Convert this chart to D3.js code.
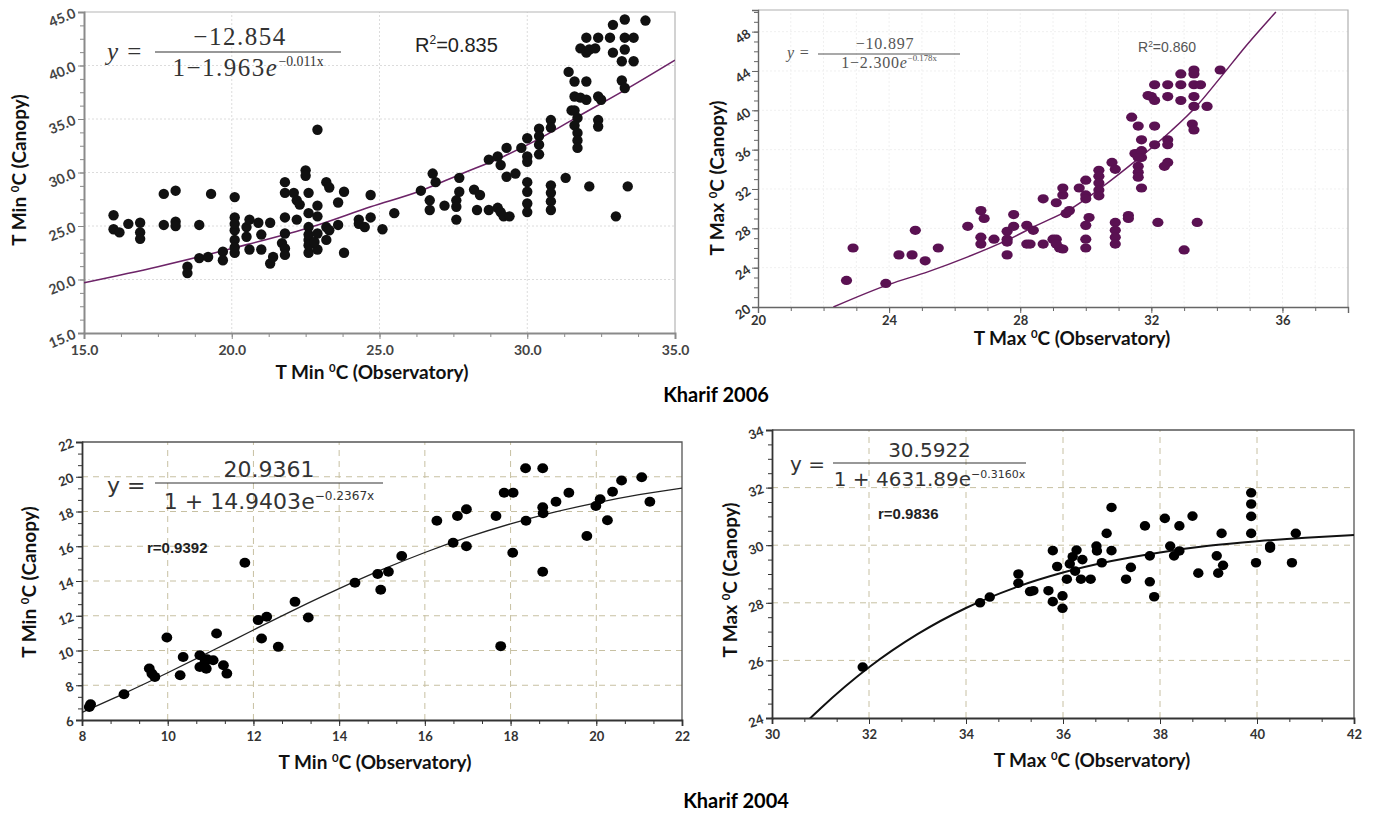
<!DOCTYPE html>
<html>
<head>
<meta charset="utf-8">
<script src="https://cdn.jsdelivr.net/npm/d3@7"></script>
<style>
  body { margin: 0; background: #fff; }
  svg { display: block; }
</style>
</head>
<body>
<svg id="chart" width="1375" height="817"></svg>
<script>
// ---- Kharif 2006, T Min: [observatory, canopy]
const tmin2006 = [
  [16.0,26.0],[16.0,24.7],[16.2,24.4],[16.5,25.2],[16.9,25.3],[16.9,24.4],[16.9,23.8],
  [17.7,28.0],[17.7,25.1],[18.1,28.3],[18.1,25.4],[18.1,25.0],[18.5,21.2],[18.5,20.6],
  [18.9,25.1],[18.9,22.0],[19.2,22.1],[19.3,28.0],[19.7,22.6],[19.7,21.8],
  [20.1,27.7],[20.1,25.8],[20.1,24.6],[20.1,23.7],[20.1,22.5],[20.1,25.2],[20.1,23.0],
  [20.5,24.9],[20.5,24.0],[20.6,22.8],[20.6,25.6],[20.9,25.3],[21.0,22.8],[21.0,24.2],
  [21.3,25.3],[21.3,21.5],[21.4,22.1],[21.7,23.4],
  [21.8,29.1],[21.8,28.1],[21.8,25.8],[21.8,24.3],[21.8,22.9],[21.8,22.3],
  [22.1,28.1],[22.2,27.4],[22.2,25.6],[22.3,27.0],[22.5,30.2],[22.5,29.7],
  [22.6,28.1],[22.6,26.2],[22.6,24.9],[22.6,23.7],[22.6,22.5],[22.6,23.2],[22.6,24.2],
  [22.9,34.0],[22.9,26.9],[22.9,25.9],[22.9,24.3],[22.9,22.8],[22.8,23.5],
  [23.2,29.1],[23.2,24.9],[23.2,23.7],[23.3,28.6],[23.3,24.6],[23.6,27.2],[23.6,25.1],
  [23.8,28.2],[23.8,22.5],[24.3,25.6],[24.3,25.2],[24.5,24.9],[24.7,27.9],[24.7,25.8],
  [25.1,24.7],[25.5,26.2],[26.4,28.3],[26.8,29.9],[26.9,29.1],[26.7,27.4],[26.7,26.5],
  [27.2,26.9],[27.6,25.6],[27.7,29.5],[27.7,28.2],[27.6,27.4],[27.6,26.8],[28.2,28.4],
  [28.4,27.9],[28.3,26.5],[28.7,31.2],[28.7,26.5],[29.0,26.7],[29.1,26.3],[29.2,25.9],
  [29.4,25.9],[29.0,31.5],[29.1,30.7],[29.3,32.3],[29.3,29.6],[29.6,29.9],[29.8,32.3],
  [30.0,33.2],[30.0,31.5],[30.0,31.0],[30.0,29.1],[30.0,28.2],[30.0,27.1],[30.0,26.3],
  [30.4,34.1],[30.4,33.4],[30.4,32.6],[30.4,31.7],[30.8,34.9],[30.8,34.2],
  [30.8,28.8],[30.8,28.1],[30.8,27.3],[30.8,26.5],[31.3,29.5],
  [31.4,39.4],[31.6,38.5],[32.0,38.5],[31.6,37.1],[31.8,37.0],[32.0,36.8],
  [31.5,35.8],[31.6,35.8],[31.7,35.1],[31.6,34.4],[31.7,33.7],[31.7,33.0],[31.7,32.3],
  [32.4,37.1],[32.5,36.8],[32.4,34.9],[32.4,34.3],[32.1,28.7],[33.0,25.9],[33.4,28.7],
  [33.2,38.6],[33.3,37.9],[32.0,42.6],[31.8,41.6],[32.0,41.2],[32.1,41.5],[32.3,41.6],
  [32.4,42.6],[32.8,42.6],[32.9,41.2],[32.9,43.8],[33.3,44.3],[33.3,42.6],[33.3,41.5],
  [33.2,40.4],[33.6,42.6],[33.6,40.4],[34.0,44.2]
];
const fitTmin2006 = [[15,19.7],[17.5,21.2],[20,22.9],[22.8,25.0],[24.7,26.8],[26.4,28.3],
  [27.7,29.8],[29.2,31.5],[30.3,33.0],[31.7,35.2],[33.3,37.7],[35,40.5]];

// ---- Kharif 2006, T Max
const tmax2006 = [
  [22.7,22.7],[22.9,26.0],[23.9,22.4],[24.3,25.3],[24.7,25.3],[24.8,27.8],[25.1,24.7],
  [25.5,26.0],[26.4,28.2],[26.8,29.8],[26.9,29.0],[26.8,27.1],[26.8,26.4],[27.2,26.9],
  [27.6,27.7],[27.6,26.9],[27.6,26.6],[27.6,25.3],[27.8,29.4],[27.8,28.2],[28.2,28.3],
  [28.2,26.4],[28.4,27.8],[28.3,26.4],[28.7,26.4],[28.7,31.0],[29.0,26.9],[29.1,26.9],
  [29.2,26.0],[29.3,25.9],[29.1,26.4],[29.1,30.6],[29.3,31.4],[29.3,32.1],[29.4,29.5],
  [29.5,29.8],[29.8,32.1],[30.0,32.9],[30.0,31.4],[30.0,31.0],[30.1,29.1],[30.0,28.3],
  [30.0,26.9],[30.0,26.0],[30.4,33.9],[30.4,33.3],[30.4,32.6],[30.4,31.9],[30.4,31.3],
  [30.8,34.7],[30.9,34.0],[30.9,28.6],[30.9,27.8],[30.9,27.1],[30.9,26.4],[31.3,29.3],
  [31.3,29.0],[31.4,39.3],[31.6,38.4],[31.7,37.0],[31.5,35.6],[31.6,35.6],[31.7,35.9],
  [31.7,35.2],[31.6,35.2],[31.6,34.3],[31.6,33.7],[31.6,33.2],[31.7,32.1],[32.1,38.4],
  [32.1,36.5],[31.9,41.5],[32.0,41.4],[32.1,41.0],[32.1,42.6],[32.2,28.6],[32.5,37.0],
  [32.5,36.5],[32.5,34.7],[32.4,34.3],[32.5,41.4],[32.5,42.6],[32.9,43.7],[32.9,42.6],
  [32.9,41.0],[33.0,25.8],[33.3,44.1],[33.3,43.7],[33.3,42.6],[33.3,41.4],[33.3,40.4],
  [33.25,38.6],[33.3,38.0],[33.4,28.6],[33.5,42.6],[33.7,40.4],[34.1,44.1]
];
const fitTmax2006 = [[22.3,20],[24,22.3],[25.2,23.6],[26.4,25.1],[27.6,26.8],[28.5,28.3],
  [29.5,29.9],[30.5,32.2],[31.5,34.8],[32.6,37.9],[33.4,40.5],[34.1,43.3],[34.9,46.6],[35.8,50]];

// ---- Kharif 2004, T Min
const tmin2004 = [
  [8.17,6.75],[8.2,6.9],[8.98,7.48],[9.57,8.96],[9.63,8.67],[9.70,8.48],[9.98,10.75],
  [10.29,8.58],[10.36,9.63],[10.75,9.73],[10.75,9.05],[10.87,9.34],[10.9,8.95],[10.92,9.5],
  [11.06,9.44],[11.14,10.98],[11.30,9.15],[11.38,8.67],[11.80,15.05],[12.11,11.75],
  [12.19,10.69],[12.31,11.94],[12.58,10.21],[12.97,12.8],[13.28,11.9],[14.37,13.9],
  [14.9,14.4],[14.97,13.5],[15.15,14.53],[15.46,15.44],[16.28,17.47],[16.66,16.2],
  [16.76,17.74],[16.97,18.13],[16.97,16.0],[17.66,17.74],[17.77,10.25],[17.85,19.08],
  [18.06,19.08],[18.05,15.63],[18.35,20.49],[18.36,17.47],[18.75,20.49],[18.75,18.24],
  [18.76,17.9],[18.75,14.53],[19.06,18.56],[19.36,19.08],[19.78,16.59],[19.99,18.32],
  [20.09,18.7],[20.26,17.5],[20.38,19.14],[20.59,19.78],[21.06,19.97],[21.25,18.56]
];
const fitTmin2004 = [[8,6.44],[9,7.55],[10,8.72],[11,9.94],[12,11.18],[13,12.40],[14,13.56],
  [15,14.65],[16,15.64],[17,16.52],[18,17.29],[19,17.95],[20,18.50],[21,18.97],[22,19.35]];

// ---- Kharif 2004, T Max
const tmax2004 = [
  [31.87,25.77],[34.29,28.0],[34.49,28.2],[35.08,29.0],[35.08,28.68],[35.32,28.39],
  [35.39,28.42],[35.70,28.42],[35.79,29.81],[35.79,28.04],[35.88,29.26],[35.99,28.24],
  [35.99,27.81],[36.08,28.82],[36.14,29.35],[36.2,29.6],[36.28,29.83],[36.25,29.1],
  [36.4,29.5],[36.37,28.82],[36.57,28.82],[36.69,29.97],[36.7,29.8],[36.80,29.39],
  [36.90,30.41],[37.0,31.31],[37.0,29.81],[37.30,28.82],[37.40,29.23],[37.69,30.67],
  [37.79,29.63],[37.79,28.73],[37.88,28.21],[38.10,30.93],[38.21,29.97],[38.29,29.63],
  [38.40,30.67],[38.4,29.8],[38.67,31.01],[38.79,29.03],[39.17,29.63],[39.2,29.03],
  [39.27,30.41],[39.3,29.3],[39.88,31.82],[39.88,31.43],[39.88,31.0],[39.88,30.41],
  [39.98,29.39],[40.27,29.97],[40.27,29.9],[40.72,29.39],[40.80,30.41]
];
const fitTmax2004 = [[30.75,23.93],[31,24.33],[32,25.76],[33,26.91],[34,27.82],[35,28.52],
  [36,29.05],[37,29.45],[38,29.75],[39,29.98],[40,30.14],[41,30.26],[42,30.35]];

const svg = d3.select("#chart");
const labelFont = "Lato, 'Open Sans', sans-serif";

function drawPanel(p) {
  const g = svg.append("g");
  const x = d3.scaleLinear().domain(p.xDomain).range(p.xRange);
  const y = d3.scaleLinear().domain(p.yDomain).range(p.yRange);
  const [x0, x1] = p.xRange, [y0, y1] = p.yRange;

  // grid
  g.append("g").selectAll("line").data(p.xGrid).join("line")
    .attr("x1", d => x(d)).attr("x2", d => x(d)).attr("y1", y0).attr("y2", y1)
    .attr("stroke", p.gridColor).attr("stroke-dasharray", p.gridDash);
  g.append("g").selectAll("line").data(p.yGrid).join("line")
    .attr("x1", x0).attr("x2", x1).attr("y1", d => y(d)).attr("y2", d => y(d))
    .attr("stroke", p.gridColor).attr("stroke-dasharray", p.gridDash);

  // frame (top + right)
  g.append("path").attr("d", `M${x0},${y1}H${x1}V${y0}`)
    .attr("fill", "none").attr("stroke", p.frameColor).attr("stroke-width", p.frameWidth);

  // minor ticks
  const minorX = d3.range(p.xDomain[0], p.xDomain[1] + 1e-6, p.minorX);
  const minorY = d3.range(p.yDomain[0], p.yDomain[1] + 1e-6, p.minorY);
  g.append("g").attr("transform", `translate(0,${y0})`)
    .call(d3.axisBottom(x).tickValues(minorX).tickSize(4).tickFormat(""))
    .call(a => a.select(".domain").remove())
    .selectAll("line").attr("stroke", p.axisColor);
  g.append("g").attr("transform", `translate(${x0},0)`)
    .call(d3.axisLeft(y).tickValues(minorY).tickSize(4).tickFormat(""))
    .call(a => a.select(".domain").remove())
    .selectAll("line").attr("stroke", p.axisColor);

  // major axes
  const xa = g.append("g").attr("transform", `translate(0,${y0})`)
    .call(d3.axisBottom(x).tickValues(p.xTicks).tickSize(6).tickFormat(p.fmt).tickPadding(p.xPad));
  const ya = g.append("g").attr("transform", `translate(${x0},0)`)
    .call(d3.axisLeft(y).tickValues(p.yTicks).tickSize(6).tickFormat(p.fmt));
  [xa, ya].forEach(a => {
    a.select(".domain").attr("stroke", p.axisColor).attr("stroke-width", p.axisWidth);
    a.selectAll(".tick line").attr("stroke", p.axisColor);
    a.selectAll("text").attr("fill", p.tickColor).style("font-family", labelFont)
      .style("font-weight", "bold").style("font-size", p.tickSize + "px");
  });
  ya.selectAll("text").attr("x", null).attr("dy", "0.35em")
    .attr("transform", `translate(-9,0) rotate(${p.tickRot})`);

  // fit curve
  g.append("clipPath").attr("id", p.id + "clip").append("rect")
    .attr("x", x0).attr("y", y1).attr("width", x1 - x0).attr("height", y0 - y1);
  g.append("path").datum(p.fit)
    .attr("clip-path", `url(#${p.id}clip)`)
    .attr("d", d3.line().x(d => x(d[0])).y(d => y(d[1])).curve(d3.curveMonotoneX))
    .attr("fill", "none").attr("stroke", p.fitColor).attr("stroke-width", p.fitWidth);

  // points
  g.append("g").selectAll("ellipse").data(p.data).join("ellipse")
    .attr("cx", d => x(d[0])).attr("cy", d => y(d[1]))
    .attr("rx", p.rx).attr("ry", p.ry).attr("fill", p.dotColor);
}

drawPanel({ id: "p1", data: tmin2006, fit: fitTmin2006,
  xDomain: [15, 35], xRange: [84, 675], yDomain: [15, 45], yRange: [333, 12],
  xTicks: [15, 20, 25, 30, 35], yTicks: [15, 20, 25, 30, 35, 40, 45],
  xGrid: [20, 25, 30], yGrid: [20, 25, 30, 35, 40],
  minorX: 1.25, minorY: 1.25, fmt: d3.format(".1f"), xPad: 6,
  gridColor: "#dcdcdc", gridDash: "2,2", frameColor: "#b5b5b5", frameWidth: 1.2,
  axisColor: "#8a8a8a", axisWidth: 2, tickColor: "#444", tickSize: 14, tickRot: -22,
  fitColor: "#6d2468", fitWidth: 1.6, dotColor: "#111", rx: 5.2, ry: 5.2 });

drawPanel({ id: "p2", data: tmax2006, fit: fitTmax2006,
  xDomain: [20, 38], xRange: [758, 1348], yDomain: [20, 50.2], yRange: [307, 10],
  xTicks: [20, 24, 28, 32, 36], yTicks: [20, 24, 28, 32, 36, 40, 44, 48],
  xGrid: d3.range(21, 38), yGrid: [24, 28, 32, 36, 40, 44, 48],
  minorX: 1, minorY: 1, fmt: d3.format("d"), xPad: 3,
  gridColor: "#f0f0f0", gridDash: "2,2", frameColor: "#b0b0b0", frameWidth: 1.2,
  axisColor: "#666", axisWidth: 1.4, tickColor: "#333", tickSize: 13, tickRot: -35,
  fitColor: "#6a1f62", fitWidth: 1.5, dotColor: "#5a1152", rx: 5.6, ry: 4.6 });

drawPanel({ id: "p3", data: tmin2004, fit: fitTmin2004,
  xDomain: [8, 22], xRange: [82, 682], yDomain: [6, 22], yRange: [720, 442],
  xTicks: [8, 10, 12, 14, 16, 18, 20, 22], yTicks: [6, 8, 10, 12, 14, 16, 18, 20, 22],
  xGrid: [10, 12, 14, 16, 18, 20], yGrid: [8, 10, 12, 14, 16, 18, 20],
  minorX: 2 / 3, minorY: 2 / 3, fmt: d3.format("d"), xPad: 6,
  gridColor: "#c7c0a2", gridDash: "6,5", frameColor: "#555", frameWidth: 1.3,
  axisColor: "#333", axisWidth: 1.8, tickColor: "#333", tickSize: 13, tickRot: -20,
  fitColor: "#222", fitWidth: 1.3, dotColor: "#000", rx: 5.4, ry: 5 });

drawPanel({ id: "p4", data: tmax2004, fit: fitTmax2004,
  xDomain: [30, 42], xRange: [772, 1354], yDomain: [24, 34], yRange: [718, 430],
  xTicks: [30, 32, 34, 36, 38, 40, 42], yTicks: [24, 26, 28, 30, 32, 34],
  xGrid: [32, 34, 36, 38, 40], yGrid: [26, 28, 30, 32],
  minorX: 2 / 3, minorY: 0.5, fmt: d3.format("d"), xPad: 6,
  gridColor: "#c7c0a2", gridDash: "6,5", frameColor: "#555", frameWidth: 1.3,
  axisColor: "#333", axisWidth: 1.8, tickColor: "#333", tickSize: 13, tickRot: -20,
  fitColor: "#111", fitWidth: 2, dotColor: "#000", rx: 5.2, ry: 4.8 });

// axis titles
function axisTitle(x, y, rot, name, rest, size) {
  const t = svg.append("text")
    .attr("transform", `translate(${x},${y}) rotate(${rot})`)
    .attr("text-anchor", "middle")
    .style("font-family", labelFont).style("font-weight", "bold")
    .style("font-size", size + "px").attr("fill", "#111");
  t.append("tspan").text(name + " ");
  t.append("tspan").text("0").attr("dy", -size * 0.38).style("font-size", (size * 0.6) + "px");
  t.append("tspan").text("C " + rest).attr("dy", size * 0.38);
}
axisTitle(26, 170, -90, "T Min", "(Canopy)", 19);
axisTitle(372, 379, 0, "T Min", "(Observatory)", 19);
axisTitle(724, 178, -90, "T Max", "(Canopy)", 19);
axisTitle(1072, 345, 0, "T Max", "(Observatory)", 19);
axisTitle(36, 582, -90, "T Min", "(Canopy)", 19);
axisTitle(375, 769, 0, "T Min", "(Observatory)", 19);
axisTitle(737, 580, -90, "T Max", "(Canopy)", 19);
axisTitle(1092, 767, 0, "T Max", "(Observatory)", 19);

svg.append("text").attr("x", 716).attr("y", 402).attr("text-anchor", "middle")
  .style("font-family", labelFont).style("font-weight", "bold").style("font-size", "20px")
  .text("Kharif 2006");
svg.append("text").attr("x", 736).attr("y", 808).attr("text-anchor", "middle")
  .style("font-family", labelFont).style("font-weight", "bold").style("font-size", "20px")
  .text("Kharif 2004");

// fitted equations
function equation(e) {
  const g = svg.append("g").attr("fill", e.color)
    .style("font-family", e.font).style("font-size", e.size + "px")
    .style("letter-spacing", e.spacing + "px");
  const lhs = g.append("text").attr("x", e.yx).attr("y", e.yy);
  lhs.append("tspan").text("y").style("font-style", e.italic ? "italic" : "normal");
  lhs.append("tspan").text(" =");
  g.append("text").attr("x", (e.b0 + e.b1) / 2 + e.numShift).attr("y", e.numY)
    .attr("text-anchor", "middle").text(e.num);
  g.append("line").attr("x1", e.b0).attr("x2", e.b1).attr("y1", e.barY).attr("y2", e.barY)
    .attr("stroke", e.color).attr("stroke-width", 1.2);
  const den = g.append("text").attr("x", (e.b0 + e.b1) / 2).attr("y", e.denY)
    .attr("text-anchor", "middle");
  den.append("tspan").text(e.den);
  den.append("tspan").text("e").style("font-style", e.italic ? "italic" : "normal");
  den.append("tspan").text(e.exp).attr("dy", -e.size * 0.42)
    .style("font-size", (e.size * 0.55) + "px").style("letter-spacing", "0px");
}
equation({ font: "'Liberation Serif', 'DejaVu Serif', serif", size: 25, spacing: 1.5, italic: true,
  color: "#333", yx: 107, yy: 60, num: "\u221212.854", numShift: -8, numY: 45, b0: 155, b1: 341,
  barY: 52, den: "1\u22121.963", exp: "\u22120.011x", denY: 76 });
equation({ font: "'Liberation Serif', 'DejaVu Serif', serif", size: 16, spacing: 0.8, italic: true,
  color: "#555", yx: 787, yy: 58, num: "\u221210.897", numShift: -4, numY: 49, b0: 818, b1: 960,
  barY: 54, den: "1\u22122.300", exp: "\u22120.178x", denY: 68 });
equation({ font: "'DejaVu Sans', Verdana, sans-serif", size: 22, spacing: 0, italic: false,
  color: "#333", yx: 107, yy: 493, num: "20.9361", numShift: 0, numY: 477, b0: 155, b1: 383,
  barY: 483, den: "1 + 14.9403", exp: "\u22120.2367x", denY: 509 });
equation({ font: "'DejaVu Sans', Verdana, sans-serif", size: 20, spacing: 0, italic: false,
  color: "#333", yx: 790, yy: 471, num: "30.5922", numShift: 0, numY: 457, b0: 833, b1: 1026,
  barY: 463, den: "1 + 4631.89", exp: "\u22120.3160x", denY: 486 });

// goodness of fit labels
function stat(x, y, size, color, weight, main, sup, rest) {
  const t = svg.append("text").attr("x", x).attr("y", y).attr("fill", color)
    .style("font-family", "'Liberation Sans', Arial, sans-serif")
    .style("font-size", size + "px").style("font-weight", weight);
  t.append("tspan").text(main);
  if (sup) {
    t.append("tspan").text(sup).attr("dy", -size * 0.38).style("font-size", (size * 0.6) + "px");
    t.append("tspan").text(rest).attr("dy", size * 0.38);
  } else {
    t.append("tspan").text(rest);
  }
}
stat(415, 52, 20, "#222", "normal", "R", "2", "=0.835");
stat(1138, 52, 14, "#555", "normal", "R", "2", "=0.860");
stat(147, 553, 15, "#222", "bold", "r", null, "=0.9392");
stat(878, 519, 15, "#222", "bold", "r", null, "=0.9836");
</script>
</body>
</html>
